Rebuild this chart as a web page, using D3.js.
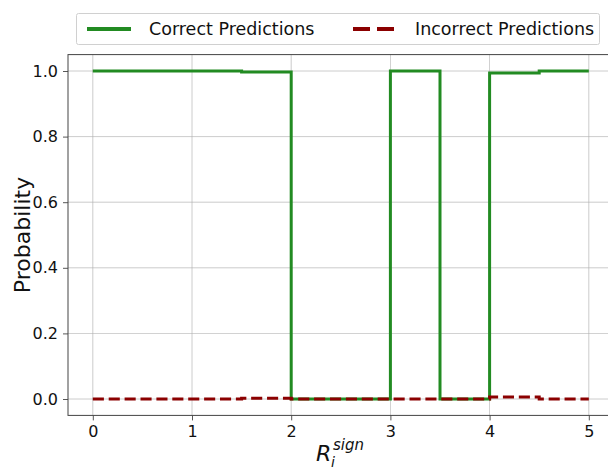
<!DOCTYPE html>
<html>
<head>
<meta charset="utf-8">
<script src="https://cdn.jsdelivr.net/npm/d3@7"></script>
<style>
  html, body { margin: 0; padding: 0; background: #fff; }
  svg { display: block; font-family: "DejaVu Sans", sans-serif; }
</style>
</head>
<body>
<svg id="chart" width="608" height="469"></svg>
<script>
// Step breakpoints along R_i^sign and the probability held from each one
const stepX = [0, 1.5, 2, 3, 3.5, 4, 4.5, 5];
const correctProb = [1.0, 0.997, 0.0, 1.0, 0.0, 0.994, 1.0, 1.0];
const incorrectProb = [0.0, 0.002, 0.0, 0.0, 0.0, 0.006, 0.0, 0.0];
const xTicks = [0, 1, 2, 3, 4, 5];
const yTicks = [0.0, 0.2, 0.4, 0.6, 0.8, 1.0];
const seriesNames = ["Correct Predictions", "Incorrect Predictions"];

const svg = d3.select("#chart");
const plotLeft = 68, plotRight = 613.6, plotTop = 54.6, plotBottom = 415.4;

const x = d3.scaleLinear().domain([-0.25, 5.25]).range([plotLeft, plotRight]);
const y = d3.scaleLinear().domain([-0.05, 1.05]).range([plotBottom, plotTop]);

// grid
const grid = svg.append("g");
grid.selectAll(".gx").data(xTicks).join("line")
  .attr("x1", d => x(d)).attr("x2", d => x(d))
  .attr("y1", plotTop).attr("y2", plotBottom)
  .attr("stroke", "#b0b0b0").attr("stroke-width", 0.8).attr("opacity", 0.8);
grid.selectAll(".gy").data(yTicks).join("line")
  .attr("x1", plotLeft).attr("x2", plotRight)
  .attr("y1", d => y(d)).attr("y2", d => y(d))
  .attr("stroke", "#b0b0b0").attr("stroke-width", 0.8).attr("opacity", 0.8);

// axes
const xAxis = svg.append("g").attr("transform", `translate(0,${plotBottom})`)
  .call(d3.axisBottom(x).tickValues(xTicks).tickFormat(d3.format("d")).tickSizeOuter(0).tickSize(5).tickPadding(5));
const yAxis = svg.append("g").attr("transform", `translate(${plotLeft},0)`)
  .call(d3.axisLeft(y).tickValues(yTicks).tickFormat(d3.format(".1f")).tickSizeOuter(0).tickSize(5).tickPadding(5));
[xAxis, yAxis].forEach(a => {
  a.select(".domain").remove();
  a.selectAll("line").attr("stroke", "#444").attr("stroke-width", 0.9);
  a.selectAll("text").attr("font-size", 16).attr("fill", "#111")
    .attr("font-family", "DejaVu Sans, sans-serif");
});

// frame
svg.append("rect")
  .attr("x", plotLeft).attr("y", plotTop)
  .attr("width", plotRight - plotLeft).attr("height", plotBottom - plotTop)
  .attr("fill", "none").attr("stroke", "#444").attr("stroke-width", 1);

// step lines
const line = d3.line().curve(d3.curveStepAfter)
  .x(d => x(d[0])).y(d => y(d[1]));

svg.append("path")
  .datum(stepX.map((v, i) => [v, correctProb[i]]))
  .attr("d", line).attr("fill", "none")
  .attr("stroke", "#228b22").attr("stroke-width", 3);

svg.append("path")
  .datum(stepX.map((v, i) => [v, incorrectProb[i]]))
  .attr("d", line).attr("fill", "none")
  .attr("stroke", "#8b0000").attr("stroke-width", 3)
  .attr("stroke-dasharray", "11.1,4.8");

// axis titles
svg.append("text")
  .attr("transform", `translate(30,${(plotTop + plotBottom) / 2}) rotate(-90)`)
  .attr("text-anchor", "middle")
  .attr("font-size", 22).attr("fill", "#111")
  .text("Probability");

// R with subscript i and superscript "sign", stacked at the same x
const xt = svg.append("text")
  .attr("x", 316).attr("y", 461)
  .attr("font-size", 22).attr("fill", "#111").attr("font-style", "italic");
xt.append("tspan").text("R");
const subX = 316 + 15;
svg.append("text")
  .attr("x", subX).attr("y", 467)
  .attr("font-size", 14).attr("font-style", "italic").attr("fill", "#111")
  .text("i");
svg.append("text")
  .attr("x", subX + 2).attr("y", 450)
  .attr("font-size", 15).attr("font-style", "italic").attr("fill", "#111")
  .text("sign");

// legend
const lg = svg.append("g");
lg.append("rect")
  .attr("x", 76.5).attr("y", 13.5).attr("width", 523).attr("height", 31)
  .attr("rx", 2).attr("fill", "#fff").attr("stroke", "#d0d0d0").attr("stroke-width", 1);
const legendItems = [
  { name: seriesNames[0], color: "#228b22", dash: null, x0: 87, len: 44, tx: 149 },
  { name: seriesNames[1], color: "#8b0000", dash: "17,7", x0: 353, len: 41, tx: 415 }
];
legendItems.forEach(it => {
  lg.append("line")
    .attr("x1", it.x0).attr("x2", it.x0 + it.len)
    .attr("y1", 29).attr("y2", 29)
    .attr("stroke", it.color).attr("stroke-width", 4)
    .attr("stroke-dasharray", it.dash);
  lg.append("text")
    .attr("x", it.tx).attr("y", 35)
    .attr("font-size", 17.5).attr("fill", "#111")
    .text(it.name);
});
</script>
</body>
</html>
